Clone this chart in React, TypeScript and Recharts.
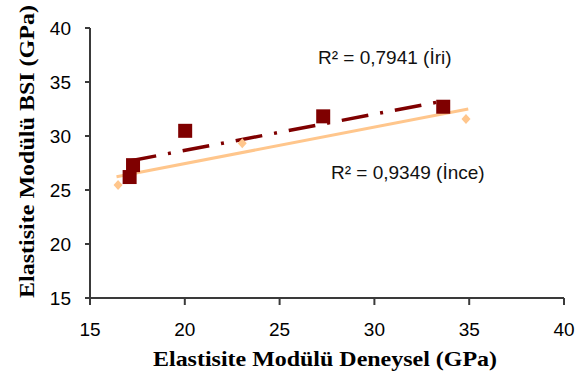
import { ScatterChart, Scatter, XAxis, YAxis, ReferenceLine } from 'recharts';

const xTicks = [15, 20, 25, 30, 35, 40];
const yTicks = [15, 20, 25, 30, 35, 40];

// İri (coarse) measurements
const iriX = [17.09, 17.27, 20.02, 27.3, 33.63];
const iriY = [26.2, 27.3, 30.48, 31.82, 32.71];

// İnce (fine) measurements
const inceX = [16.48, 23.03, 34.83];
const inceY = [25.46, 29.32, 31.57];

// trendline end points
const iriTrendX = [17.09, 33.63];
const iriTrendY = [27.69, 33.24];
const inceTrendX = [16.4, 34.95];
const inceTrendY = [26.23, 32.5];

const iriData = iriX.map((x, i) => ({ x, y: iriY[i] }));
const inceData = inceX.map((x, i) => ({ x, y: inceY[i] }));

const DARK = '#7f0000';
const PEACH = '#ffc68c';
const sans = '"Liberation Sans", Arial, sans-serif';
const serif = '"Liberation Serif", "Times New Roman", serif';

const Square = (p: any) => <rect x={p.cx - 7} y={p.cy - 7} width={14} height={14} fill={DARK} />;
const Diamond = (p: any) => (
  <path d={`M${p.cx},${p.cy - 5}L${p.cx + 4.5},${p.cy}L${p.cx},${p.cy + 5}L${p.cx - 4.5},${p.cy}Z`} fill={PEACH} />
);

const tick = { fontSize: 19, fill: '#000', fontFamily: sans };

export default function App() {
  return (
    <div style={{ position: 'absolute', left: 0, top: 0, width: 579, height: 376, background: '#fff' }}>
      <ScatterChart width={579} height={376} margin={{ top: 28, right: 15, bottom: 48, left: 0 }}>
        <XAxis
          type="number"
          dataKey="x"
          domain={[15, 40]}
          ticks={xTicks}
          height={30}
          tick={tick}
          tickSize={7}
          tickMargin={18}
          axisLine={{ stroke: '#3a3a3a', strokeWidth: 2 }}
          tickLine={{ stroke: '#3a3a3a', strokeWidth: 2 }}
        />
        <YAxis
          type="number"
          dataKey="y"
          domain={[15, 40]}
          ticks={yTicks}
          width={90}
          tick={tick}
          tickSize={5}
          tickMargin={14}
          axisLine={{ stroke: '#3a3a3a', strokeWidth: 2 }}
          tickLine={{ stroke: '#3a3a3a', strokeWidth: 2 }}
        />
        <Scatter data={iriData} shape={Square} isAnimationActive={false} />
        <Scatter data={inceData} shape={Diamond} isAnimationActive={false} />
        <ReferenceLine
          segment={[
            { x: iriTrendX[0], y: iriTrendY[0] },
            { x: iriTrendX[1], y: iriTrendY[1] },
          ]}
          stroke={DARK}
          strokeWidth={3.5}
          strokeDasharray="27 12 3 12"
        />
        <ReferenceLine
          segment={[
            { x: inceTrendX[0], y: inceTrendY[0] },
            { x: inceTrendX[1], y: inceTrendY[1] },
          ]}
          stroke={PEACH}
          strokeWidth={3}
        />
      </ScatterChart>
      <svg width={579} height={376} style={{ position: 'absolute', left: 0, top: 0, pointerEvents: 'none' }}>
        <text x={318} y={64} fontSize={19} fontFamily={sans} fill="#111">
          R² = 0,7941 (İri)
        </text>
        <text x={331} y={179} fontSize={19} fontFamily={sans} fill="#111">
          R² = 0,9349 (İnce)
        </text>
        <text x={153} y={366} fontSize={22} fontWeight="bold" fontFamily={serif} textLength={344} lengthAdjust="spacingAndGlyphs">
          Elastisite Modülü Deneysel (GPa)
        </text>
        <text
          x={0}
          y={0}
          transform="translate(34,298) rotate(-90)"
          fontSize={22}
          fontWeight="bold"
          fontFamily={serif}
          textLength={293}
          lengthAdjust="spacingAndGlyphs"
        >
          Elastisite Modülü BSI (GPa)
        </text>
      </svg>
    </div>
  );
}
